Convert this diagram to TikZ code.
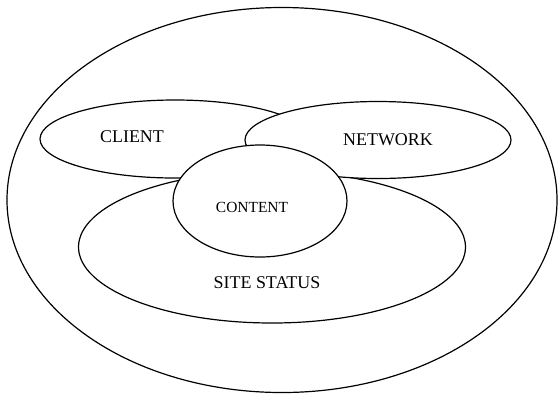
\documentclass[tikz,border=0pt]{standalone}
\usepackage{fontspec}
\setmainfont{Liberation Serif}
\usetikzlibrary{shapes.geometric}
\begin{document}
\begin{tikzpicture}[x=1bp,y=-1bp,
  region/.style={ellipse,draw=black,fill=white,line width=1.2bp,inner sep=0pt},
  lbl/.style={font=\fontsize{18}{20}\selectfont,inner sep=0pt},
  smalllbl/.style={font=\fontsize{15.5}{18}\selectfont,inner sep=0pt}]
\useasboundingbox (0,0) rectangle (558,394);
\node[region,minimum width=550bp,minimum height=385bp] (outer) at (282,200) {};
\node[region,minimum width=387bp,minimum height=152bp] (site) at (272,247) {};
\node[region,minimum width=270bp,minimum height=78bp] (client) at (175,139) {};
\node[region,minimum width=266bp,minimum height=77bp] (network) at (378,140) {};
\node[region,minimum width=174bp,minimum height=112bp] (content) at (260,201) {};
\node[lbl] (clienttext) at (132,137) {CLIENT};
\node[lbl] (networktext) at (388,140) {NETWORK};
\node[smalllbl] (contenttext) at (252,207) {CONTENT};
\node[lbl] (sitetext) at (267,283) {SITE STATUS};
\end{tikzpicture}
\end{document}
